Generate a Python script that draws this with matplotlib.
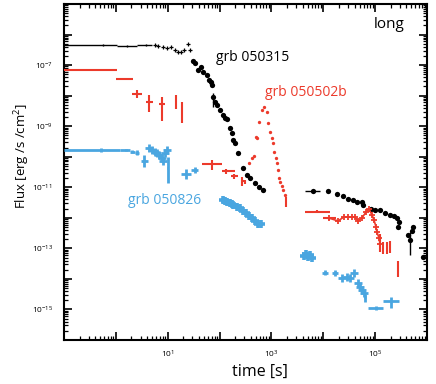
import numpy as np
import matplotlib
matplotlib.use('Agg')
import matplotlib.pyplot as plt
from matplotlib.ticker import LogLocator, FuncFormatter, NullFormatter

plt.rcParams['font.family'] = ['Open Sans', 'DejaVu Sans']
plt.rcParams['mathtext.fontset'] = 'custom'
plt.rcParams['mathtext.rm'] = 'Open Sans'
plt.rcParams['mathtext.it'] = 'Open Sans'

BLACK = '#000000'
RED = '#ec3a2b'
BLUE = '#4aa6e0'

# ---- grb 050315 (black) ----
bk_bin_t = [0.565, 1.64, 3.81, 74.7, 6330, 4.7e5]
bk_bin_lo = [0.1, 1.05, 2.56, 72, 4440, 4.6e5]
bk_bin_hi = [1.05, 2.56, 4.98, 77, 8630, 4.8e5]
bk_bin_f = [4.55e-7, 4.2e-7, 4.55e-7, 9.0e-9, 7.57e-12, 1.88e-13]
bk_bin_flo = [4.3e-7, 3.9e-7, 4.2e-7, 4.25e-9, 7.0e-12, 6.1e-14]
bk_bin_fhi = [4.8e-7, 4.5e-7, 4.9e-7, 1.22e-8, 8.2e-12, 3.4e-13]

bk_cross_t = [5.69, 6.5, 8.1, 9.7, 11.6, 13.8, 15.8, 18.0, 20.6, 24.6, 26.9]
bk_cross_f = [4.4e-7, 4.2e-7, 3.9e-7, 3.6e-7, 3.9e-7, 3.1e-7, 2.7e-7, 2.7e-7,
              3.1e-7, 4.9e-7, 3.1e-7]

bk_dot_t = [30.7, 33.6, 38.4, 43.9, 47.9, 57.1, 62.5, 68.4, 71.4, 74.7, 81.7,
            89.1, 102, 116, 127, 139, 159, 173, 182, 198, 226, 283, 338, 386,
            482, 575, 687, 6330, 1.23e4, 1.84e4, 2.40e4, 2.99e4, 3.74e4,
            4.47e4, 5.57e4, 5.82e4, 8.3e4, 9.93e4, 1.24e5, 1.55e5, 1.93e5,
            2.31e5, 2.64e5, 2.88e5, 2.75e5, 4.30e5, 4.70e5, 5.37e5, 5.13e5,
            8.36e5]
bk_dot_f = [1.36e-7, 1.17e-7, 6.9e-8, 8.7e-8, 5.9e-8, 4.7e-8, 3.25e-8, 2.8e-8,
            2.23e-8, 9.0e-9, 6.2e-9, 4.9e-9, 3.4e-9, 2.33e-9, 1.85e-9, 1.72e-9,
            8.7e-10, 5.98e-10, 3.53e-10, 2.82e-10, 1.33e-10, 4.28e-11,
            2.53e-11, 2.01e-11, 1.38e-11, 1.02e-11, 8.2e-12, 7.57e-12, 7.3e-12,
            5.8e-12, 5.19e-12, 4.14e-12, 3.84e-12, 3.18e-12, 3.18e-12,
            2.64e-12, 1.88e-12, 1.81e-12, 1.74e-12, 1.44e-12, 1.24e-12,
            1.11e-12, 9.9e-13, 7.3e-13, 5.0e-13, 2.75e-13, 1.88e-13, 5.0e-13,
            3.7e-13, 5.2e-14]

# ---- grb 050502b (red) ----
rd_bin_t = [0.541, 1.50, 2.56, 4.36, 7.76, 14.5, 18.8, 71.4, 133, 189, 270,
            309, 1910, 7570, 1.27e4, 1.24e5, 1.42e5, 1.69e5, 1.93e5, 2.75e5]
rd_bin_lo = [0.1, 1.0, 2.05, 3.81, 6.8, 14.0, 18.2, 46.0, 112, 165, 255, 295,
             1850, 4440, 9900, 1.2e5, 1.38e5, 1.64e5, 1.87e5, 2.7e5]
rd_bin_hi = [1.05, 2.14, 3.19, 5.2, 9.0, 15.0, 19.4, 111, 198, 226, 290, 330,
             1970, 1.35e4, 1.75e4, 1.28e5, 1.47e5, 1.75e5, 1.99e5, 2.8e5]
rd_bin_f = [6.9e-8, 3.5e-8, 1.13e-8, 6.2e-9, 5.3e-9, 7.2e-9, 3.94e-9, 5.8e-11,
            3.42e-11, 2.34e-11, 1.6e-11, 1.49e-11, 3.3e-12, 1.56e-12, 9.9e-13,
            1.39e-13, 1.11e-13, 1.11e-13, 1.2e-13, 2.46e-14]
rd_bin_flo = [6.5e-8, 3.2e-8, 8.4e-9, 2.92e-9, 1.51e-9, 3.7e-9, 1.27e-9,
              3.7e-11, 2.8e-11, 1.9e-11, 1.12e-11, 1.25e-11, 2.2e-12, 1.4e-12,
              8.8e-13, 7.5e-14, 6.6e-14, 6.6e-14, 7.0e-14, 1.14e-14]
rd_bin_fhi = [7.3e-8, 3.8e-8, 1.53e-8, 1.05e-8, 9.0e-9, 1.05e-8, 6.2e-9,
              7.8e-11, 4.1e-11, 2.8e-11, 2.1e-11, 1.75e-11, 4.9e-12, 1.75e-12,
              1.1e-12, 2.9e-13, 1.66e-13, 1.66e-13, 1.7e-13, 4.0e-14]

rd_flare_t = [369, 422, 461, 504, 527, 576, 658, 719, 820, 859, 938, 1026,
              1072, 1120, 1225, 1280, 1340, 1400, 1462, 1600, 1671, 1828]
rd_flare_f = [6.24e-11, 9.1e-11, 1.06e-10, 4.43e-10, 4.11e-10, 1.37e-9,
              3.39e-9, 4.25e-9, 2.92e-9, 1.27e-9, 6.46e-10, 4.11e-10, 2.82e-10,
              1.43e-10, 9.1e-11, 6.24e-11, 3.68e-11, 2.01e-11, 1.49e-11,
              1.1e-11, 8.2e-12, 5.6e-12]

rd_late_t = [1.27e4, 1.92e4, 2.51e4, 2.99e4, 3.57e4, 4.08e4, 4.67e4, 5.57e4,
             6.7e4, 7.6e4, 8.7e4, 9.5e4, 1.04e5, 1.08e5, 1.19e5, 1.24e5]
rd_late_f = [9.9e-13, 7.9e-13, 1.07e-12, 1.07e-12, 1.07e-12, 1.07e-12,
             7.9e-13, 9.9e-13, 1.56e-12, 1.95e-12, 1.24e-12, 8.5e-13, 5.0e-13,
             3.44e-13, 2.19e-13, 1.39e-13]

# ---- grb 050826 (blue) ----
bl_bin_t = [0.516, 1.57, 2.05, 2.56, 3.5, 10.1, 22.5, 33.6, 1.08e4, 1.68e4,
            6.37e4, 1.04e5, 2.02e5]
bl_bin_lo = [0.1, 1.2, 1.85, 2.3, 3.0, 9.9, 18.0, 28.5, 9.3e3, 1.5e4, 6.2e4,
             7.3e4, 1.42e5]
bl_bin_hi = [1.2, 1.9, 2.33, 2.85, 4.1, 10.3, 28.1, 39, 1.25e4, 1.9e4, 6.55e4,
             1.42e5, 2.89e5]
bl_bin_f = [1.66e-10, 1.66e-10, 1.43e-10, 1.33e-10, 7.26e-11, 4.28e-11,
            2.72e-11, 3.68e-11, 1.57e-14, 1.57e-14, 2.57e-15, 1.12e-15, 1.9e-15]
bl_bin_flo = [1.45e-10, 1.5e-10, 1.3e-10, 1.1e-10, 4.6e-11, 1.38e-11, 1.9e-11,
              3.0e-11, 1.3e-14, 1.25e-14, 1.8e-15, 0.95e-15, 1.12e-15]
bl_bin_fhi = [1.9e-10, 1.85e-10, 1.6e-10, 1.6e-10, 1.14e-10, 9.8e-11, 3.9e-11,
              4.5e-11, 1.9e-14, 2.0e-14, 3.3e-15, 1.32e-15, 2.6e-15]

bl_cross_t = [4.36, 4.98, 5.69, 6.21, 6.79, 7.76, 8.1, 8.87, 9.7, 2.30e4,
              2.87e4, 3.27e4, 3.91e4, 4.67e4, 5.1e4, 5.57e4, 6.1e4]
bl_cross_f = [1.93e-10, 1.66e-10, 1.43e-10, 1.33e-10, 1.14e-10, 9.1e-11,
              7.26e-11, 1.33e-10, 1.66e-10, 1.07e-14, 1.16e-14, 1.07e-14,
              1.57e-14, 7.4e-15, 5.5e-15, 4.34e-15, 3.47e-15]

bl_dense_t = [116, 127, 139, 159, 173, 182, 217, 248, 283, 323, 369, 422, 482,
              551, 630, 4200, 4600, 5080, 5550, 6100]
bl_dense_f = [3.84e-12, 3.56e-12, 3.3e-12, 3.06e-12, 2.84e-12, 2.64e-12,
              2.26e-12, 2.1e-12, 1.67e-12, 1.44e-12, 1.15e-12, 9.9e-13,
              7.9e-13, 6.3e-13, 6.3e-13, 5.6e-14, 6.6e-14, 5.2e-14, 6.0e-14,
              4.8e-14]

x_labelled = [1, 3, 5]
y_labelled = [-7, -9, -11, -13, -15]


def draw_bins(ax, t, lo, hi, f, flo, fhi, color, lw):
    t = np.array(t)
    f = np.array(f)
    xerr = [t - np.array(lo), np.array(hi) - t]
    yerr = [f - np.array(flo), np.array(fhi) - f]
    ax.errorbar(t, f, xerr=xerr, yerr=yerr, fmt='none', ecolor=color,
                elinewidth=lw, capsize=0, zorder=3)


def power_label(keep):
    def fmt(v, pos):
        e = int(round(np.log10(v)))
        return r'$10^{%d}$' % e if e in keep else ''
    return FuncFormatter(fmt)


fig = plt.figure(figsize=(4.36, 3.84), dpi=100)
ax = fig.add_axes([64 / 436, 1 - 340 / 384, 363 / 436, 336 / 384])

# black
draw_bins(ax, bk_bin_t, bk_bin_lo, bk_bin_hi, bk_bin_f, bk_bin_flo, bk_bin_fhi,
          BLACK, 1.0)
ax.plot(bk_cross_t, bk_cross_f, ls='none', marker='+', ms=3, mew=0.9,
        color=BLACK, zorder=4)
ax.plot(bk_dot_t, bk_dot_f, ls='none', marker='o', ms=3.8, mew=0,
        color=BLACK, zorder=4)

# red
draw_bins(ax, rd_bin_t, rd_bin_lo, rd_bin_hi, rd_bin_f, rd_bin_flo, rd_bin_fhi,
          RED, 1.5)
ax.plot(rd_flare_t, rd_flare_f, ls='none', marker='o', ms=2.4, mew=0,
        color=RED, zorder=4)
ax.plot(rd_late_t, rd_late_f, ls='-', lw=1.2, marker='+', ms=5, mew=1.3,
        color=RED, zorder=4)

# blue
draw_bins(ax, bl_bin_t, bl_bin_lo, bl_bin_hi, bl_bin_f, bl_bin_flo, bl_bin_fhi,
          BLUE, 2.0)
ax.plot(bl_cross_t, bl_cross_f, ls='none', marker='+', ms=6, mew=2.0,
        color=BLUE, zorder=4)
ax.plot(bl_dense_t, bl_dense_f, ls='none', marker='+', ms=6, mew=2.6,
        color=BLUE, zorder=4)

ax.set_xscale('log')
ax.set_yscale('log')
ax.set_xlim(0.1, 1e6)
ax.set_ylim(1e-16, 1e-5)

for axis, keep in ((ax.xaxis, x_labelled), (ax.yaxis, y_labelled)):
    axis.set_major_locator(LogLocator(base=10, numticks=30))
    axis.set_minor_locator(LogLocator(base=10, subs=np.arange(2, 10), numticks=200))
    axis.set_major_formatter(power_label(keep))
    axis.set_minor_formatter(NullFormatter())

ax.tick_params(which='both', direction='in', top=True, right=True,
               labelsize=6)
ax.tick_params(which='major', length=6, width=1.2)
ax.tick_params(which='minor', length=3, width=0.9)
ax.tick_params(axis='y', pad=8)
ax.tick_params(axis='x', pad=6)
for s in ax.spines.values():
    s.set_linewidth(1.5)

ax.text(0.897, 0.9375, 'long', transform=ax.transAxes, ha='center',
        va='center', fontsize=11)
ax.text(0.521, 0.842, 'grb 050315', transform=ax.transAxes, ha='center',
        va='center', fontsize=10, color=BLACK)
ax.text(0.665, 0.738, 'grb 050502b', transform=ax.transAxes, ha='center',
        va='center', fontsize=10, color=RED)
ax.text(0.277, 0.414, 'grb 050826', transform=ax.transAxes, ha='center',
        va='center', fontsize=10, color=BLUE)

fig.text(259.5 / 436, 1 - 372 / 384, 'time [s]', ha='center', va='center',
         fontsize=11.5)
fig.text(22 / 436, 1 - 156 / 384, r'Flux [erg /s /cm$^2$]', ha='center',
         va='center', rotation=90, fontsize=9.5)

fig.savefig('out.png', dpi=100)
